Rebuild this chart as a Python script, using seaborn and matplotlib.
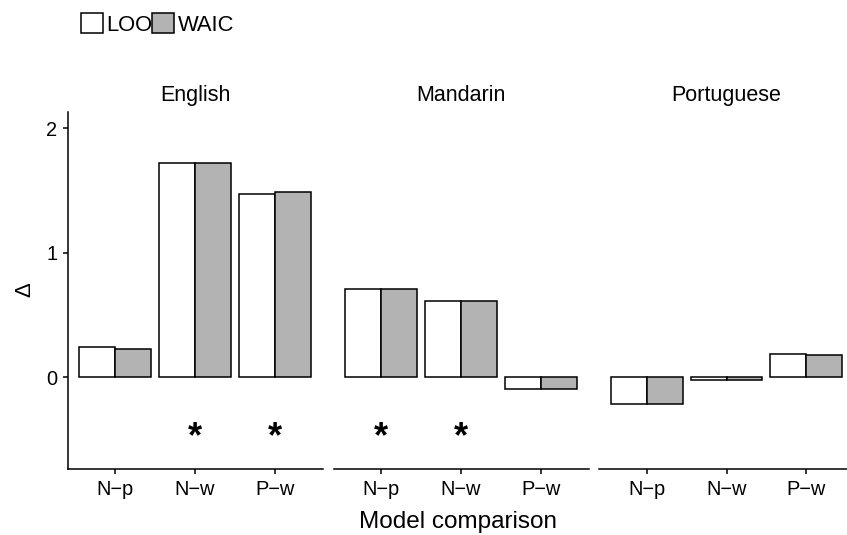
import matplotlib
matplotlib.use("Agg")
import matplotlib.pyplot as plt
import matplotlib.transforms as mtransforms
from matplotlib.patches import Patch
import numpy as np
import pandas as pd
import seaborn as sns

# ---------------- data ----------------
languages = ["English", "Mandarin", "Portuguese"]
comparisons = ["N\u2212p", "N\u2212w", "P\u2212w"]
criteria = ["LOO", "WAIC"]

loo_english = [0.241, 1.717, 1.471]
waic_english = [0.230, 1.717, 1.487]
loo_mandarin = [0.709, 0.612, -0.093]
waic_mandarin = [0.709, 0.612, -0.093]
loo_portuguese = [-0.212, -0.022, 0.189]
waic_portuguese = [-0.212, -0.022, 0.182]

significant_english = ["N\u2212w", "P\u2212w"]
significant_mandarin = ["N\u2212p", "N\u2212w"]
significant_portuguese = []
star_level = -0.435

y_ticks = [0, 1, 2]
y_label = "\u0394"
x_label = "Model comparison"

loo_all = [loo_english, loo_mandarin, loo_portuguese]
waic_all = [waic_english, waic_mandarin, waic_portuguese]
sig_all = [significant_english, significant_mandarin, significant_portuguese]

rows = []
for lang, loo, waic in zip(languages, loo_all, waic_all):
    for comp, l, w in zip(comparisons, loo, waic):
        rows.append(dict(language=lang, comparison=comp, criterion="LOO", delta=l))
        rows.append(dict(language=lang, comparison=comp, criterion="WAIC", delta=w))
df = pd.DataFrame(rows)

# ---------------- style ----------------
sns.set_style("white")
plt.rcParams["font.family"] = ["Liberation Sans", "DejaVu Sans"]
plt.rcParams["text.color"] = "black"

W, H = 847, 535
fig = plt.figure(figsize=(W / 100, H / 100), dpi=100)

palette = {"LOO": "white", "WAIC": "#b3b3b3"}
lw = 1.1
panel_left = [67.5, 333.5, 599.0]
panel_w = 255.0
top_px, bottom_px = 112.0, 469.0

for i, lang in enumerate(languages):
    ax = fig.add_axes([panel_left[i] / W, (H - bottom_px) / H,
                       panel_w / W, (bottom_px - top_px) / H])
    sub = df[df["language"] == lang]
    sns.barplot(data=sub, x="comparison", y="delta", hue="criterion",
                order=comparisons, hue_order=criteria, palette=palette,
                saturation=1, edgecolor="black", linewidth=lw, width=0.9,
                gap=0, errorbar=None, legend=False, ax=ax)
    ax.set_xlim(-0.6, 2.6)
    ax.set_ylim(-0.736, 2.129)
    ax.set_xlabel("")
    ax.set_ylabel("")
    for s in ["top", "right"]:
        ax.spines[s].set_visible(False)
    ax.spines["bottom"].set_linewidth(lw)
    ax.spines["bottom"].set_color("black")
    ax.tick_params(axis="x", length=3.4, width=lw, color="black",
                   labelsize=14.4, labelcolor="black", pad=4.6, bottom=True)
    if i == 0:
        ax.spines["left"].set_linewidth(lw)
        ax.spines["left"].set_color("black")
        ax.set_yticks(y_ticks)
        ax.tick_params(axis="y", length=3.4, width=lw, color="black",
                       labelsize=14.4, labelcolor="black", pad=4, left=True)
    else:
        ax.spines["left"].set_visible(False)
        ax.set_yticks([])
    ax.text(0.5, 1 + 11 / (bottom_px - top_px), lang, transform=ax.transAxes,
            ha="center", va="baseline", fontsize=15.5)
    star_tr = ax.transData + mtransforms.ScaledTranslation(0, -6 / 100, fig.dpi_scale_trans)
    for comp in sig_all[i]:
        ax.text(comparisons.index(comp), star_level, "*", ha="center",
                va="center", fontsize=26, fontweight="bold", transform=star_tr)

fig.text(24.5 / W, 1 - 290 / H, y_label, rotation=90, ha="center",
         va="center", fontsize=16)
fig.text(458 / W, 1 - 528 / H, x_label, ha="center", va="baseline",
         fontsize=17.5)

handles = [Patch(facecolor=palette[c], edgecolor="black", linewidth=lw, label=c)
           for c in criteria]
fig.legend(handles=handles, loc="upper left", bbox_to_anchor=(81 / W, 1 - 13 / H),
           ncol=2, frameon=False, fontsize=15.8, handlelength=1.0,
           handleheight=1.05, handletextpad=0.15, columnspacing=0.0,
           borderpad=0, borderaxespad=0)

fig.savefig("out.png", dpi=100)
